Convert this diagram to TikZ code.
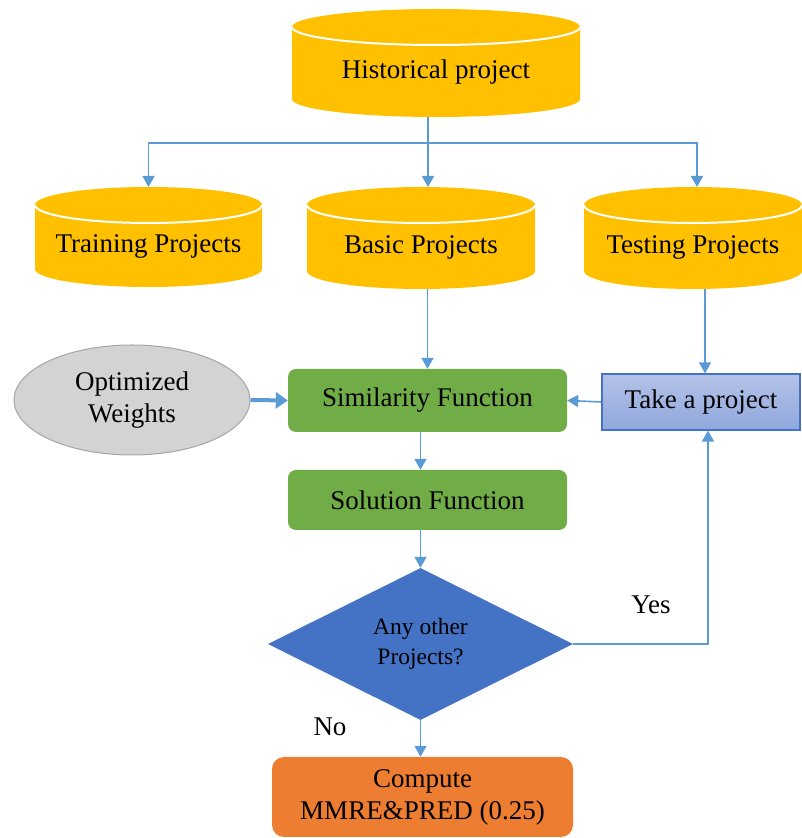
\documentclass[tikz,border=0pt]{standalone}
\usepackage{fontspec}
\setmainfont{Liberation Serif}
\usetikzlibrary{shapes.geometric,arrows.meta}
\definecolor{drumgold}{HTML}{FFC000}
\definecolor{flowblue}{HTML}{5B9BD5}
\definecolor{leafgreen}{HTML}{70AD47}
\definecolor{deepblue}{HTML}{4472C4}
\definecolor{tangerine}{HTML}{ED7D31}
\definecolor{mistblue}{HTML}{B4C2E8}
\definecolor{slateblue}{HTML}{8FA8DC}
\definecolor{fog}{HTML}{D3D3D3}
\definecolor{ash}{HTML}{A6A6A6}

% drum (database) symbol: name, centre x, top y, bottom y (measured downwards), half width, text
\newcommand\drum[6]{%
  \fill[drumgold] ({#2-#5},{838-#3-18}) -- ({#2-#5},{838-#4+18})
    arc[start angle=180,end angle=360,x radius=#5pt,y radius=18pt]
    -- ({#2+#5},{838-#3-18})
    arc[start angle=0,end angle=180,x radius=#5pt,y radius=18pt] -- cycle;
  \draw[white,line width=2pt] ({#2-#5},{838-#3-18})
    arc[start angle=180,end angle=360,x radius=#5pt,y radius=18pt];
  \node[txt,inner sep=0pt,minimum width={2*#5*1pt},minimum height={(#4-#3-18)*1pt}]
    (#1) at ({#2},{838-(#3+18+#4)/2}) {#6};
  \coordinate (#1-top) at ({#2},{838-#3});
}

\begin{document}
\begin{tikzpicture}[x=1pt,y=1pt,
  txt/.style={font=\fontsize{27}{32}\selectfont,align=center,text=black},
  plain/.style={draw=flowblue,line width=1.6pt},
  flow/.style={plain,-{Triangle[length=11pt,width=12pt]}},
  boldflow/.style={draw=flowblue,line width=4pt,-{Triangle[length=12pt,width=16pt]}},
  greenbox/.style={txt,fill=leafgreen,rounded corners=8pt,inner sep=0pt},
  takebox/.style={txt,draw=deepblue,line width=1.2pt,top color=mistblue,bottom color=slateblue,inner sep=0pt},
  weightbox/.style={txt,ellipse,draw=ash,line width=1pt,fill=fog,inner sep=0pt},
  decision/.style={diamond,fill=deepblue,inner sep=0pt,font=\fontsize{23.5}{30}\selectfont,align=center,text=black},
  resultbox/.style={txt,fill=tangerine,rounded corners=12pt,inner sep=0pt}]
\useasboundingbox (0,0) rectangle (802,838);

% data stores
\drum{hist}{436}{9}{117}{144}{Historical project}
\drum{train}{148.5}{187}{287}{113.5}{Training Projects}
\drum{basic}{421}{187}{289}{114}{Basic Projects}
\drum{test}{693}{187}{289}{109}{Testing Projects}

% processing steps
\node[greenbox,minimum width=279pt,minimum height=63pt] (sim) at (427.5,437.5) {Similarity Function};
\node[greenbox,minimum width=279pt,minimum height=60pt] (sol) at (427.5,338) {Solution Function};
\node[takebox,minimum width=198pt,minimum height=56pt] (take) at (701,436) {Take a project};
\node[weightbox,minimum width=236pt,minimum height=110pt] (ow) at (132,438) {Optimized\\Weights};
\node[decision,minimum width=305pt,minimum height=152pt] (dia) at (420.5,194) {Any other\\Projects?};
\node[resultbox,minimum width=301pt,minimum height=80pt] (comp) at (422.5,41) {Compute\\MMRE\&PRED (0.25)};

\node[txt] (yes) at (651,233) {Yes};
\node[txt] (no) at (330,111) {No};

% split of the historical data
\coordinate (hsplit) at (428,695);
\draw[plain] (hsplit |- hist.south) -- (hsplit);
\draw[flow] (hsplit) -| (train-top);
\draw[flow] (hsplit) -- (hsplit |- basic-top);
\draw[flow] (hsplit) -| ([xshift=4pt]test-top);

% main flow
\draw[flow] (sim.north |- basic.south) -- (sim.north);
\draw[flow] ([xshift=4pt]take.north |- test.south) -- ([xshift=4pt]take.north);
\draw[flow] (take.west) -- (sim.east);
\draw[boldflow] (ow.east) -- (sim.west);
\draw[flow] (dia.north |- sim.south) -- (dia.north |- sol.north);
\draw[flow] (dia.north |- sol.south) -- (dia.north);
\draw[flow] (dia.south) -- (dia.south |- comp.north);

% loop back for the next project
\coordinate (loop) at (708,194);
\draw[flow] (dia.east) -- (loop) -- (loop |- take.south);
\end{tikzpicture}
\end{document}
